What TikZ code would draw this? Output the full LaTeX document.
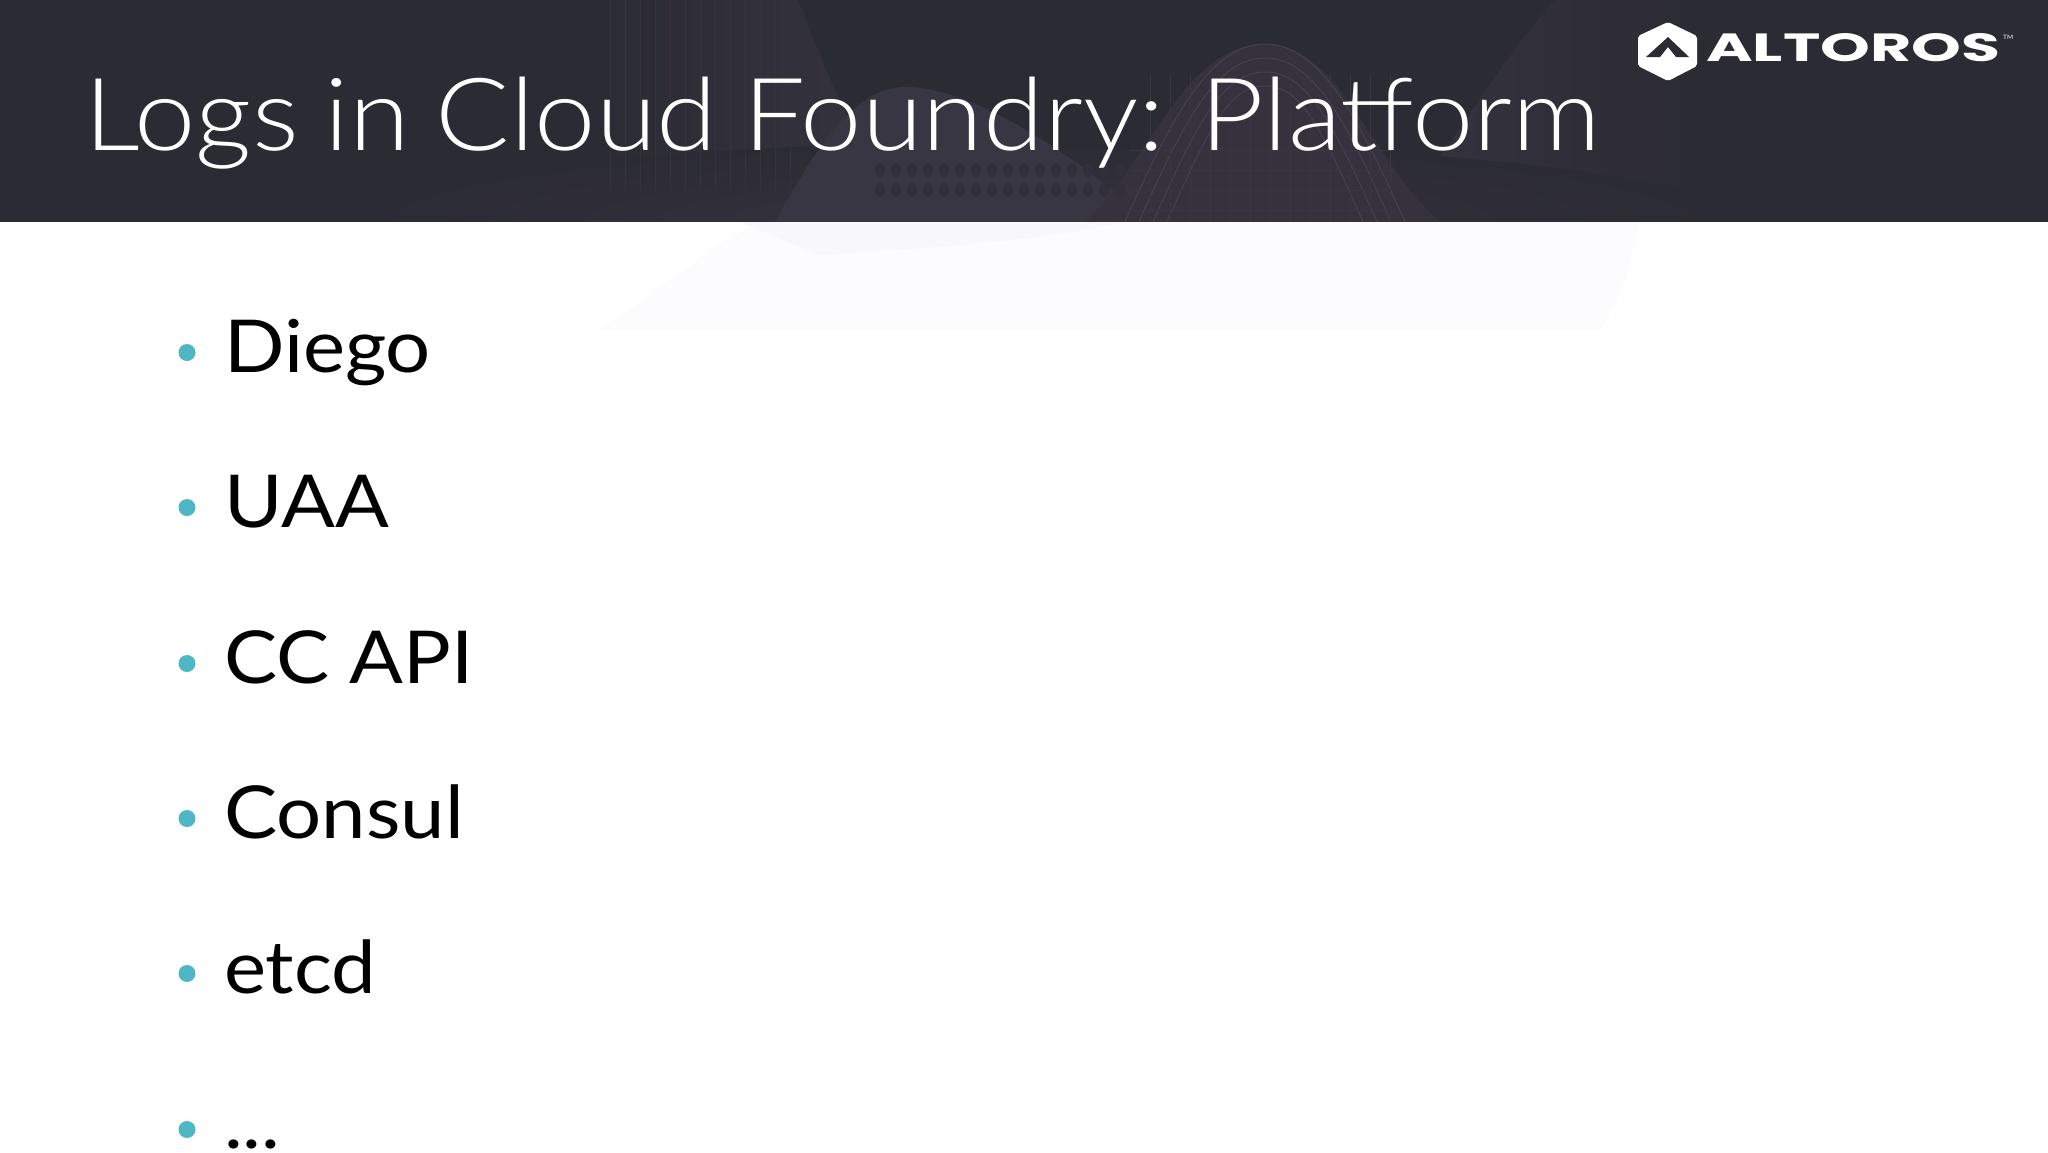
\documentclass[tikz,border=0pt]{standalone}
\usepackage{fontspec}
\usepackage{graphicx}
\setmainfont{Lato}[FakeStretch=1.09]
\newfontfamily\thinfont{Lato Light}[FakeStretch=1.09,WordSpace=0.87]
\newfontfamily\logofont{Poppins}
\definecolor{hdr}{HTML}{2B2B34}
\definecolor{hill}{HTML}{45414F}
\definecolor{hillb}{HTML}{35323D}
\definecolor{hillc}{HTML}{393643}
\definecolor{holes}{HTML}{312F3A}
\definecolor{teal}{HTML}{4FB6C6}
\definecolor{ghost}{HTML}{FCFCFE}
\definecolor{ghostb}{HTML}{F8F7FB}
\tikzset{
  x=1pt,y=-1pt,
  item/.style={anchor=base west,inner sep=0pt,font=\fontsize{73}{80}\selectfont,text=black},
  dot/.style={circle,fill=teal,minimum size=17pt,inner sep=0pt},
  hillarc/.style={draw=hill,line width=1pt},
  meshline/.style={draw=hillc,line width=.6pt}
}
\begin{document}
\begin{tikzpicture}
\useasboundingbox (0,0) rectangle (2048,1152);
% header
\fill[hdr] (0,0) rectangle (2048,222);
% mesh hills in the header
\shade[left color=hdr,right color=hillb] (592,190) -- (592,0) -- (798,0) .. controls (810,30) and (825,70) .. (840,100) -- (880,190) -- cycle;
\shade[left color=hillb,right color=hdr] (1414,190) .. controls (1450,150) and (1500,60) .. (1555,0) -- (1680,0) -- (1700,190) -- cycle;
\shade[inner color=hillb,outer color=hdr] (1040,222) ellipse (700pt and 80pt);
\fill[hillc] (775,222) .. controls (810,160) and (850,87) .. (905,87) .. controls (970,87) and (1070,150) .. (1150,222) -- cycle;
\fill[hillb] (1085,222) .. controls (1150,160) and (1185,44) .. (1265,44) .. controls (1340,44) and (1370,160) .. (1440,222) -- cycle;
\foreach \s in {0,14,28,42}{
  \draw[hillarc] (1125+\s,222) .. controls (1170+\s,120) and (1210+\s/2,44+\s) .. (1265,44+\s) .. controls (1320-\s/2,44+\s) and (1360-\s,120) .. (1405-\s,222);
}
\foreach \i in {1150,1170,...,1390}{\draw[meshline] (\i,75) -- (\i,222);}
\foreach \yy in {150,170,190,210}{\draw[meshline] (1130,\yy) -- (1395,\yy);}
\foreach \i in {610,625,...,790}{\draw[hillb,line width=.7pt] (\i,0) -- (\i,190);}
\foreach \i in {880,896,...,1120}{\foreach \yy in {170,190}{\fill[holes] (\i,\yy) ellipse (5pt and 7pt);}}
% white body, with the ghost of the mesh below the header
\fill[white] (0,222) rectangle (2048,1152);
\fill[ghost] (600,330) .. controls (660,290) and (720,240) .. (760,222) -- (1640,222) .. controls (1630,270) and (1620,300) .. (1600,330) -- cycle;
\fill[ghostb] (740,222) -- (1120,222) .. controls (1060,240) and (900,250) .. (820,255) -- cycle;
\node[anchor=base west,inner sep=0pt,text=white,font=\thinfont\fontsize{101}{110}\selectfont] (title) at (84,150) {Logs in Cloud Foundry: Platform};
% logo
\fill[white,rounded corners=2pt] (1668,22) -- (1697,36) -- (1697,66) -- (1668,81) -- (1638,66) -- (1638,36) -- cycle;
\fill[hdr] (1668,37) -- (1689,57) -- (1676,57) -- (1668,47) -- (1660,57) -- (1646,57) -- cycle;
\node[anchor=base west,inner sep=0pt,text=white,font=\logofont\bfseries\fontsize{36}{40}\selectfont] (logo) at (1706,61) {\resizebox{294pt}{28pt}{ALTOROS}};
\node[anchor=base west,inner sep=0pt,text=white,font=\fontsize{6}{7}\selectfont] (tm) at (2003,39) {TM};
% list
\foreach \n/\t/\yb in {a/Diego/372,b/UAA/527,c/CC API/683,d/Consul/838,e/etcd/993}{
  \node[dot] (dot\n) at (187,\yb-19.5) {};
  \node[item] (txt\n) at (224,\yb) {\t};
}
\node[dot] (dotf) at (187,1129.5) {};
\node[item] (txtf) at (224,1148) {...};
\end{tikzpicture}
\end{document}
